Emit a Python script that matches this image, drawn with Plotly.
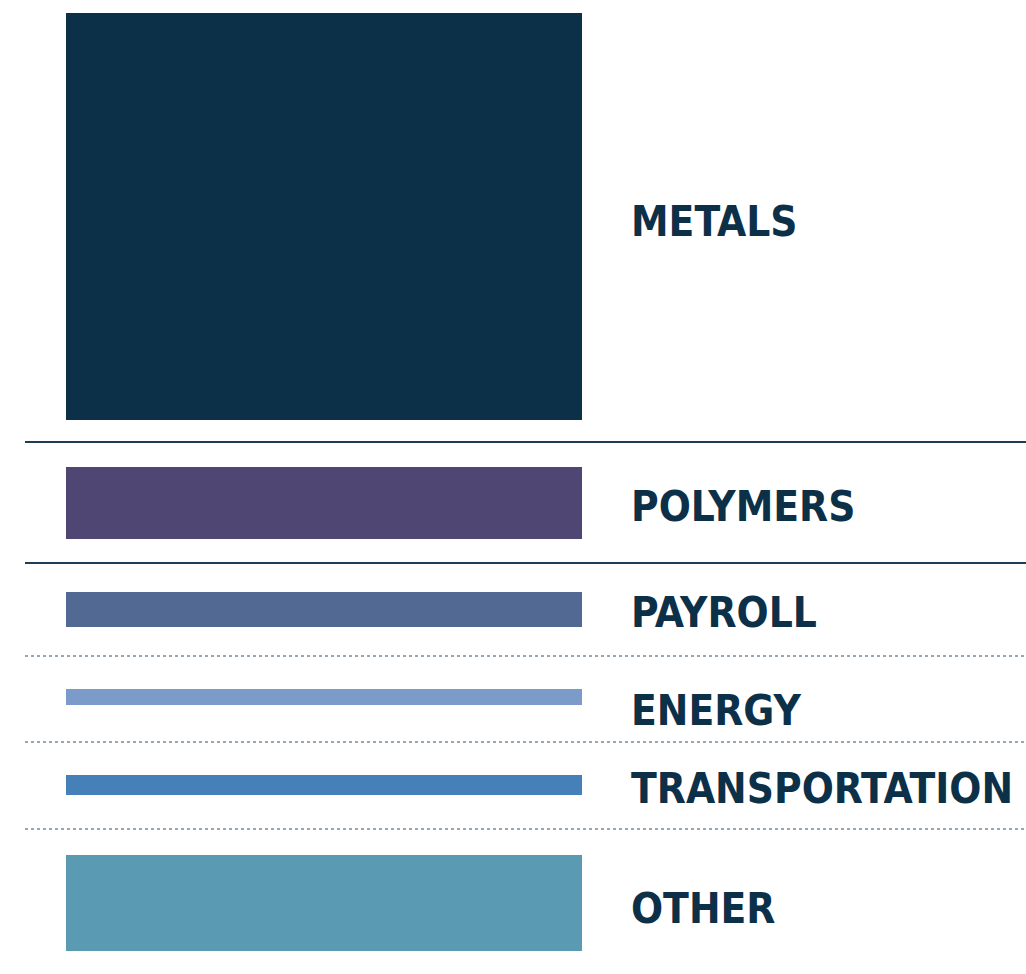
import plotly.graph_objects as go

# Data: share of cost (%)
categories = ["METALS", "POLYMERS", "PAYROLL", "ENERGY", "TRANSPORTATION", "OTHER"]
values = [63, 11, 5.5, 2.5, 3, 15]
colors = ["#0d3049", "#504673", "#526a93", "#7b9bc8", "#4580b8", "#5a9ab3"]

# Layout (pixel-like units on the y axis)
row_centers = [216.5, 503, 609.5, 697, 785, 903]
label_y = [221, 506, 612, 710, 788, 908]
px_per_unit = 6.46
solid_lines = [442, 563]
dotted_lines = [656, 742, 829]

fig = go.Figure()
fig.add_trace(go.Bar(
    orientation="h",
    y=row_centers,
    x=[516] * len(values),
    base=66,
    width=[v * px_per_unit for v in values],
    marker=dict(color=colors, line=dict(width=0)),
    hoverinfo="text",
    hovertext=[f"{c}: {v}%" for c, v in zip(categories, values)],
    showlegend=False,
))

for c, y in zip(categories, label_y):
    fig.add_annotation(x=629, y=y, text=f"<b>{c}</b>", showarrow=False,
                       xanchor="left", yanchor="middle",
                       font=dict(family="DejaVu Sans Condensed, Liberation Sans Narrow, sans-serif",
                                 size=42, color="#0d3049"))

for y in solid_lines:
    fig.add_shape(type="line", x0=25, x1=1026, y0=y, y1=y,
                  line=dict(color="#1d3d52", width=2))
for y in dotted_lines:
    fig.add_shape(type="line", x0=25, x1=1026, y0=y, y1=y,
                  line=dict(color="#2f5068", width=1, dash="dot"))

fig.update_xaxes(range=[0, 1026], visible=False, fixedrange=True)
fig.update_yaxes(range=[974, 0], visible=False, fixedrange=True)
fig.update_layout(width=1026, height=974, autosize=False,
                  margin=dict(l=0, r=0, t=0, b=0),
                  plot_bgcolor="white", paper_bgcolor="white", bargap=0)

fig.write_html("out.html")
